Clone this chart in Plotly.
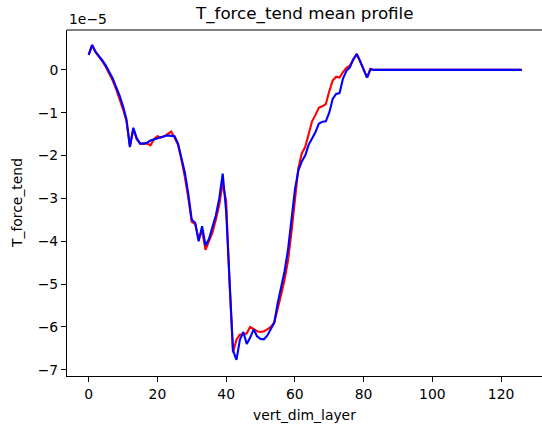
import plotly.graph_objects as go

# values in units of 1e-5
layers = list(range(127))

blue_head = [0.35, 0.58, 0.42, 0.33, 0.22, 0.10, -0.05, -0.20, -0.40, -0.60,
             -0.85, -1.15, -1.80, -1.35, -1.60, -1.72, -1.72, -1.70, -1.65, -1.62,
             -1.60, -1.57, -1.55, -1.53, -1.54, -1.55, -1.72, -2.05, -2.40, -2.90,
             -3.50, -3.57, -4.00, -3.65, -4.10, -3.95, -3.70, -3.40, -3.00, -2.42,
             -3.30, -5.00, -6.55, -6.77, -6.30, -6.12, -6.40, -6.25, -6.06, -6.22,
             -6.28, -6.29, -6.20, -6.05, -5.90, -5.45, -5.10, -4.70, -4.20, -3.50,
             -2.80, -2.35, -2.14, -2.00, -1.75, -1.60, -1.45, -1.25, -1.21, -1.20,
             -1.00, -0.68, -0.56, -0.54, -0.20, -0.02, 0.06, 0.25, 0.37, 0.20,
             0.00, -0.18, 0.02]
red_head = [0.35, 0.58, 0.42, 0.32, 0.20, 0.07, -0.09, -0.25, -0.45, -0.67,
            -0.92, -1.20, -1.78, -1.38, -1.62, -1.72, -1.72, -1.72, -1.76, -1.62,
            -1.55, -1.58, -1.55, -1.50, -1.44, -1.58, -1.75, -2.10, -2.50, -3.00,
            -3.55, -3.60, -3.95, -3.75, -4.20, -4.00, -3.80, -3.50, -3.15, -2.65,
            -3.05, -5.00, -6.60, -6.30, -6.18, -6.18, -6.15, -6.00, -6.05, -6.10,
            -6.12, -6.10, -6.06, -6.00, -5.90, -5.60, -5.25, -4.90, -4.45, -3.80,
            -3.00, -2.30, -1.95, -1.80, -1.50, -1.20, -1.05, -0.88, -0.85, -0.80,
            -0.50, -0.25, -0.16, -0.18, -0.05, 0.05, 0.10, 0.25, 0.37, 0.20,
            0.00, -0.18, 0.02]
tail = [0.0] * (127 - len(blue_head))
blue_vals = blue_head + tail
red_vals = red_head + tail

x_ticks = [0, 20, 40, 60, 80, 100, 120]
y_ticks = [-7, -6, -5, -4, -3, -2, -1, 0]
y_tick_text = ["\u22127", "\u22126", "\u22125", "\u22124", "\u22123", "\u22122", "\u22121", "0"]
scale = 1e-5

FONT = "DejaVu Sans"
fig = go.Figure()
fig.add_trace(go.Scatter(x=layers, y=[v * scale for v in red_vals], mode="lines",
                         line=dict(color="red", width=2.1), showlegend=False))
fig.add_trace(go.Scatter(x=layers, y=[v * scale for v in blue_vals], mode="lines",
                         line=dict(color="blue", width=2.1), showlegend=False))

fig.update_layout(
    width=542, height=433,
    margin=dict(l=67, r=0, t=30, b=56.5, autoexpand=False),
    paper_bgcolor="white", plot_bgcolor="white",
    font=dict(family=FONT, size=13.9, color="black"),
    xaxis=dict(range=[-6.3, 131.9], tickvals=x_ticks, ticks="outside", ticklen=5,
               tickcolor="black", showline=True, linecolor="black", linewidth=1,
               mirror=False, showgrid=False, zeroline=False, automargin=False),
    yaxis=dict(range=[-7.147 * scale, 0.932 * scale], tickvals=[t * scale for t in y_ticks],
               ticktext=y_tick_text, ticks="outside", ticklen=5, tickcolor="black",
               showline=True, linecolor="black", linewidth=1, showgrid=False,
               zeroline=False, automargin=False),
    shapes=[dict(type="line", xref="paper", yref="paper", x0=0, x1=1, y0=1, y1=1,
                 line=dict(color="black", width=1))],
    annotations=[
        dict(text="T_force_tend mean profile", xref="paper", yref="paper", x=0.5, y=1,
             xanchor="center", yanchor="bottom", showarrow=False, yshift=4,
             font=dict(size=16.7, family=FONT)),
        dict(text="1e\u22125", xref="paper", yref="paper", x=0, y=1, xanchor="left",
             yanchor="bottom", showarrow=False, yshift=1, font=dict(size=13.9, family=FONT)),
        dict(text="T_force_tend", xref="paper", yref="paper", x=0, y=0.5, xanchor="center",
             yanchor="middle", textangle=-90, showarrow=False, xshift=-50,
             font=dict(size=13.9, family=FONT)),
        dict(text="vert_dim_layer", xref="paper", yref="paper", x=0.5, y=0, xanchor="center",
             yanchor="middle", showarrow=False, yshift=-39, font=dict(size=13.9, family=FONT)),
    ],
)

fig.write_html("out.html", config={"displayModeBar": False, "staticPlot": True},
               post_script="document.body.style.margin='0';document.body.style.overflow='hidden';")
